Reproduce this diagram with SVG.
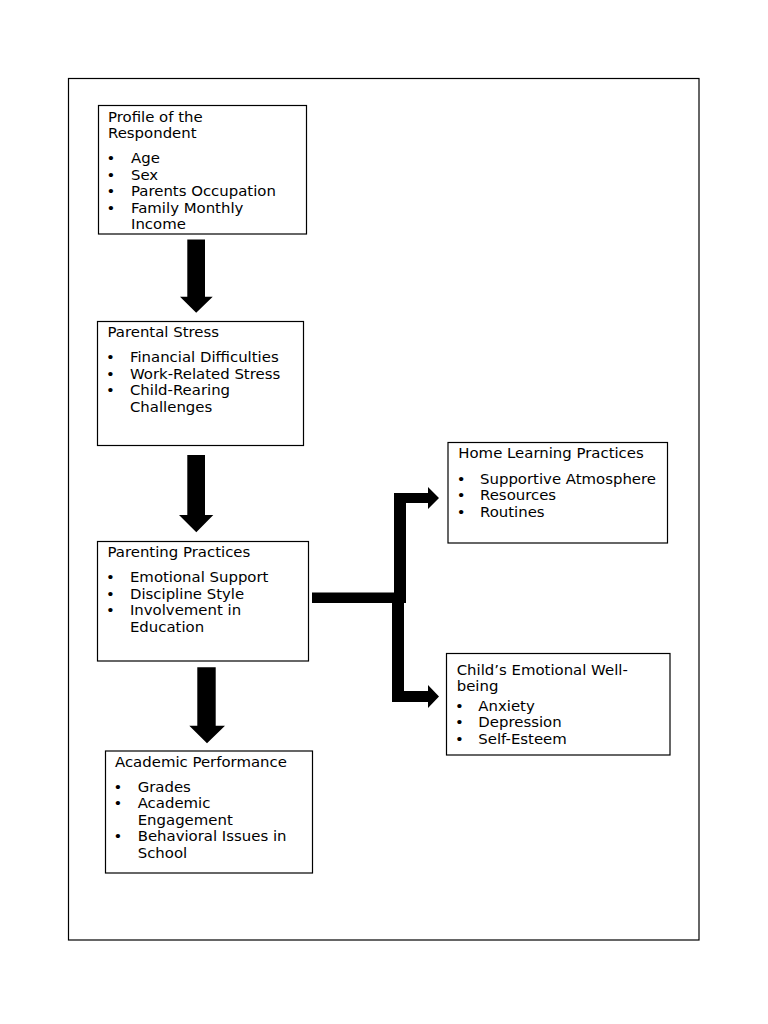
<svg xmlns="http://www.w3.org/2000/svg" width="768" height="1024" viewBox="0 0 768 1024">
<style>
.box{fill:#fff;stroke:#000;stroke-width:1.2}
.t{font-family:"DejaVu Sans","Verdana",sans-serif;font-size:14px;fill:#000}
.arr{fill:#000;stroke:none}
</style>
<rect x="0" y="0" width="768" height="1024" fill="#fff"/>
<rect id="frame" x="68.5" y="78.5" width="630.5" height="861.5" fill="none" stroke="#000" stroke-width="1.2"/>

<g id="connectors">
<path class="arr" d="M187.3,239.5 H205 V296.7 H212.7 L196.2,312.7 L180,296.7 H187.3 Z"/>
<path class="arr" d="M187.3,455 H205 V515 H213.3 L196.3,532.3 L179,515 H187.3 Z"/>
<path class="arr" d="M197.3,667.3 H215.7 V725.7 H225 L207,743.3 L189.3,725.7 H197.3 Z"/>
<rect class="arr" x="312" y="592.5" width="90" height="10.5"/>
<path class="arr" d="M394,603 V493 H428 V487 L439,498 L428,509 V503 H406 V603 Z"/>
<path class="arr" d="M392,593 V702 H428 V708 L439,696.5 L428,685 V691 H404 V593 Z"/>
</g>

<g id="profile">
<rect class="box" x="98.5" y="105.5" width="208" height="128.5"/>
<g class="t" transform="translate(108,0) scale(1.065,1)">
<text x="0" y="122">Profile of the</text>
<text x="0" y="138.5">Respondent</text>
<text x="-1.5" y="163.3">•</text><text x="21.6" y="163.3">Age</text>
<text x="-1.5" y="179.8">•</text><text x="21.6" y="179.8">Sex</text>
<text x="-1.5" y="196.3">•</text><text x="21.6" y="196.3">Parents Occupation</text>
<text x="-1.5" y="212.8">•</text><text x="21.6" y="212.8">Family Monthly</text>
<text x="21.6" y="229.3">Income</text>
</g>
</g>

<g id="stress">
<rect class="box" x="97.5" y="321.5" width="206" height="124"/>
<g class="t" transform="translate(107.5,0) scale(1.065,1)">
<text x="0" y="336.7">Parental Stress</text>
<text x="-1.5" y="362.3">•</text><text x="21.1" y="362.3">Financial Difficulties</text>
<text x="-1.5" y="378.8">•</text><text x="21.1" y="378.8">Work-Related Stress</text>
<text x="-1.5" y="395.3">•</text><text x="21.1" y="395.3">Child-Rearing</text>
<text x="21.1" y="411.8">Challenges</text>
</g>
</g>

<g id="parenting">
<rect class="box" x="97.5" y="541.5" width="211" height="119.5"/>
<g class="t" transform="translate(107.5,0) scale(1.065,1)">
<text x="0" y="556.7">Parenting Practices</text>
<text x="-1.5" y="582.3">•</text><text x="21.1" y="582.3">Emotional Support</text>
<text x="-1.5" y="598.8">•</text><text x="21.1" y="598.8">Discipline Style</text>
<text x="-1.5" y="615.3">•</text><text x="21.1" y="615.3">Involvement in</text>
<text x="21.1" y="631.8">Education</text>
</g>
</g>

<g id="academic">
<rect class="box" x="105.5" y="751" width="207" height="122"/>
<g class="t" transform="translate(115,0) scale(1.065,1)">
<text x="0" y="766.7">Academic Performance</text>
<text x="-1.5" y="791.7">•</text><text x="21.3" y="791.7">Grades</text>
<text x="-1.5" y="808.2">•</text><text x="21.3" y="808.2">Academic</text>
<text x="21.3" y="824.7">Engagement</text>
<text x="-1.5" y="841.2">•</text><text x="21.3" y="841.2">Behavioral Issues in</text>
<text x="21.3" y="857.7">School</text>
</g>
</g>

<g id="home">
<rect class="box" x="448" y="442.5" width="219.5" height="100.5"/>
<g class="t" transform="translate(458.3,0) scale(1.065,1)">
<text x="0" y="458.3">Home Learning Practices</text>
<text x="-1.5" y="484">•</text><text x="20.4" y="484">Supportive Atmosphere</text>
<text x="-1.5" y="500.5">•</text><text x="20.4" y="500.5">Resources</text>
<text x="-1.5" y="517">•</text><text x="20.4" y="517">Routines</text>
</g>
</g>

<g id="wellbeing">
<rect class="box" x="446.5" y="653.5" width="223.5" height="101.5"/>
<g class="t" transform="translate(456.7,0) scale(1.065,1)">
<text x="0" y="675">Child’s Emotional Well-</text>
<text x="0" y="691.5">being</text>
<text x="-1.5" y="710.7">•</text><text x="20.3" y="710.7">Anxiety</text>
<text x="-1.5" y="727.2">•</text><text x="20.3" y="727.2">Depression</text>
<text x="-1.5" y="743.7">•</text><text x="20.3" y="743.7">Self-Esteem</text>
</g>
</g>
</svg>
